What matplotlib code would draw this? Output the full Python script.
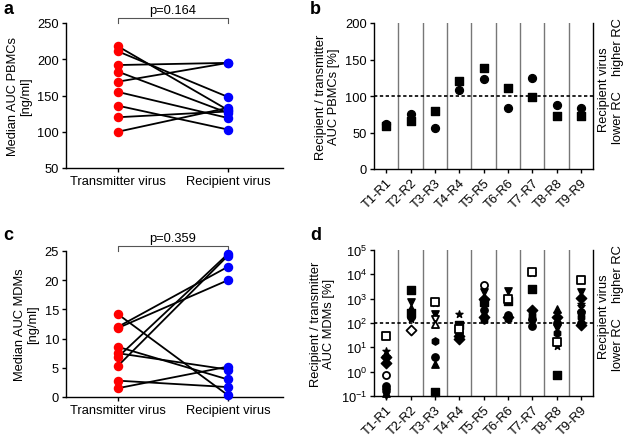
import matplotlib
matplotlib.use("Agg")
import matplotlib.pyplot as plt
import numpy as np

plt.rcParams['font.family'] = ['Liberation Sans', 'DejaVu Sans']
plt.rcParams['font.size'] = 9.3
plt.rcParams['mathtext.default'] = 'regular'

FS = 9.3

# Panel a data
a_transmitter = [218, 211, 192, 183, 169, 155, 136, 120, 100]
a_recipient = [130, 148, 195, 126, 195, 119, 103, 128, 133]
a_p = "p=0.164"

# Panel c data
c_transmitter = [14.2, 12.0, 11.8, 8.6, 7.5, 6.8, 5.3, 2.8, 1.5]
c_recipient = [0.3, 22.3, 20.0, 3.0, 4.7, 24.5, 24.2, 1.7, 5.2]
c_p = "p=0.359"

groups_x = ["Transmitter virus", "Recipient virus"]
pairs = ["T1-R1", "T2-R2", "T3-R3", "T4-R4", "T5-R5", "T6-R6", "T7-R7", "T8-R8", "T9-R9"]

# Panel b data
b_circle = [62, 76, 56, 108, 123, 84, 125, 87, 84]
b_square = [59, 66, 80, 120, 139, 111, 99, 72, 73]

# Panel d data: per pair list of (value, marker, filled)
d_points = [
    [(28, 's', False), (7.2, '*', True), (4.2, 'D', True), (3.2, 'v', True), (2.2, 'D', True),
     (0.75, 'o', False), (0.26, 'o', True), (0.2, 'o', True), (0.13, '^', True), (0.11, 'v', True)],
    [(2300, 's', True), (710, 'v', True), (400, '^', True), (260, 's', True), (180, 'o', True),
     (140, '*', True), (53, 'D', False)],
    [(710, 's', False), (650, '*', True), (240, 'v', True), (150, 'v', False), (90, '^', False),
     (18, 'h', True), (4.2, 'o', True), (2.0, '^', True), (0.14, 's', True)],
    [(230, '*', True), (80, 's', True), (55, 's', False), (40, 'o', True), (30, 'D', True), (22, 'D', True)],
    [(3800, 'o', False), (1800, 'v', True), (1000, 'D', True), (700, 's', True), (500, '*', True),
     (350, 'o', True), (250, '^', True), (180, 'D', True), (130, 'h', True)],
    [(2000, 'v', True), (1000, 's', False), (800, 's', True), (210, 'o', True), (170, 'D', True),
     (140, 'h', True)],
    [(12500, 's', False), (11000, '*', True), (2500, 's', True), (330, 'D', True), (220, 'h', True),
     (150, 'o', True), (100, 'v', True), (75, 'o', True)],
    [(380, '^', True), (270, '*', True), (180, 'D', True), (100, 'o', True), (65, 'v', True),
     (40, 'h', True), (17, 's', False), (11, '*', True), (0.7, 's', True)],
    [(5900, 's', False), (1800, 'v', True), (1100, 'D', True), (600, '*', True), (400, 'x', True),
     (280, 'o', True), (170, 'h', True), (100, 'o', True), (85, 'D', True)],
]

fig = plt.figure(figsize=(6.24, 4.39), dpi=100)

def fx(px):
    return px / 624.0

def fy(py):
    return 1 - py / 439.0

def paired(ax, tv, rv, ylim, yticks, ylabel, ptext):
    for t, r in zip(tv, rv):
        ax.plot([0, 1], [t, r], color='black', lw=1.3, zorder=2)
    ax.scatter(np.zeros(len(tv)), tv, s=34, color='#ff0000', zorder=3, clip_on=False)
    ax.scatter(np.ones(len(rv)), rv, s=34, color='#0000ff', zorder=3, clip_on=False)
    ax.set_xlim(-0.47, 1.5)
    ax.set_ylim(*ylim)
    ax.set_yticks(yticks)
    ax.set_xticks([0, 1])
    ax.set_xticklabels(groups_x, fontsize=FS)
    ax.tick_params(labelsize=FS, length=3, width=1, pad=2)
    ax.set_ylabel(ylabel, fontsize=FS, linespacing=1.1, labelpad=4)
    for s in ['top', 'right']:
        ax.spines[s].set_visible(False)
    for s in ['left', 'bottom']:
        ax.spines[s].set_linewidth(1)
    ytop = ylim[1]
    h = (ylim[1] - ylim[0]) * 0.035
    ax.plot([0, 0, 1, 1], [ytop, ytop + h, ytop + h, ytop], color='#555555', lw=0.8, clip_on=False)
    ax.text(0.5, ytop + h * 1.4, ptext, ha='center', va='bottom', fontsize=FS)

axa = fig.add_axes([fx(66), fy(169), fx(217), (169 - 24) / 439.0])
paired(axa, a_transmitter, a_recipient, (50, 250), [50, 100, 150, 200, 250],
       "Median AUC PBMCs\n[ng/ml]", a_p)
axc = fig.add_axes([fx(66), fy(398), fx(217), (398 - 252) / 439.0])
paired(axc, c_transmitter, c_recipient, (0, 25), [0, 5, 10, 15, 20, 25],
       "Median AUC MDMs\n[ng/ml]", c_p)

def ratio_axes(ax):
    ax.set_xlim(-0.5, 8.5)
    for i in range(8):
        ax.axvline(i + 0.5, color='#777777', lw=1, zorder=1)
    ax.axhline(100, color='black', lw=1.2, ls=(0, (2, 1.5)), zorder=2)
    ax.set_xticks(range(9))
    ax.set_xticklabels(pairs, rotation=45, ha='right', rotation_mode='anchor', fontsize=FS)
    ax.tick_params(labelsize=FS, length=3, width=1, pad=2)
    ax.spines['top'].set_visible(False)
    for s in ['left', 'bottom', 'right']:
        ax.spines[s].set_linewidth(1)
    ax.tick_params(axis='y', right=False)
    ax.text(1.025, 0.55, "Recipient virus", transform=ax.transAxes, rotation=90,
            ha='left', va='center', fontsize=FS)
    ax.text(1.085, 0.36, "lower RC", transform=ax.transAxes, rotation=90,
            ha='left', va='center', fontsize=FS)
    ax.text(1.085, 0.84, "higher RC", transform=ax.transAxes, rotation=90,
            ha='left', va='center', fontsize=FS)

axb = fig.add_axes([fx(374), fy(170), fx(219), (170 - 24) / 439.0])
ratio_axes(axb)
xs = np.arange(9)
axb.scatter(xs, b_circle, s=32, marker='o', color='black', zorder=3)
axb.scatter(xs, b_square, s=32, marker='s', color='black', zorder=3)
axb.set_ylim(0, 200)
axb.set_yticks([0, 50, 100, 150, 200])
axb.set_ylabel("Recipient / transmitter\nAUC PBMCs [%]", fontsize=FS, linespacing=1.1)

axd = fig.add_axes([fx(374), fy(397), fx(219), (397 - 251) / 439.0])
axd.set_yscale('log')
ratio_axes(axd)
for i, pts in enumerate(d_points):
    for v, m, filled in pts:
        if filled:
            axd.scatter(i, v, s=28, marker=m, color='black', zorder=3, clip_on=False)
        else:
            axd.scatter(i, v, s=26, marker=m, facecolors='white', edgecolors='black',
                        linewidths=1.3, zorder=4, clip_on=False)
axd.set_ylim(0.1, 1e5)
axd.set_yticks([0.1, 1, 10, 100, 1000, 1e4, 1e5])
axd.set_yticklabels([r"$10^{-1}$", r"$10^{0}$", r"$10^{1}$", r"$10^{2}$", r"$10^{3}$",
                     r"$10^{4}$", r"$10^{5}$"])
axd.set_ylabel("Recipient / transmitter\nAUC MDMs [%]", fontsize=FS, linespacing=1.1)
axd.tick_params(axis='y', which='minor', length=2, width=0.8, right=False)

for letter, x, y in [('a', 3, 10), ('b', 310, 10), ('c', 3, 236), ('d', 310, 236)]:
    fig.text(fx(x), fy(y), letter, fontsize=13, fontweight='bold', ha='left', va='center')

fig.savefig("out.png", dpi=100)
